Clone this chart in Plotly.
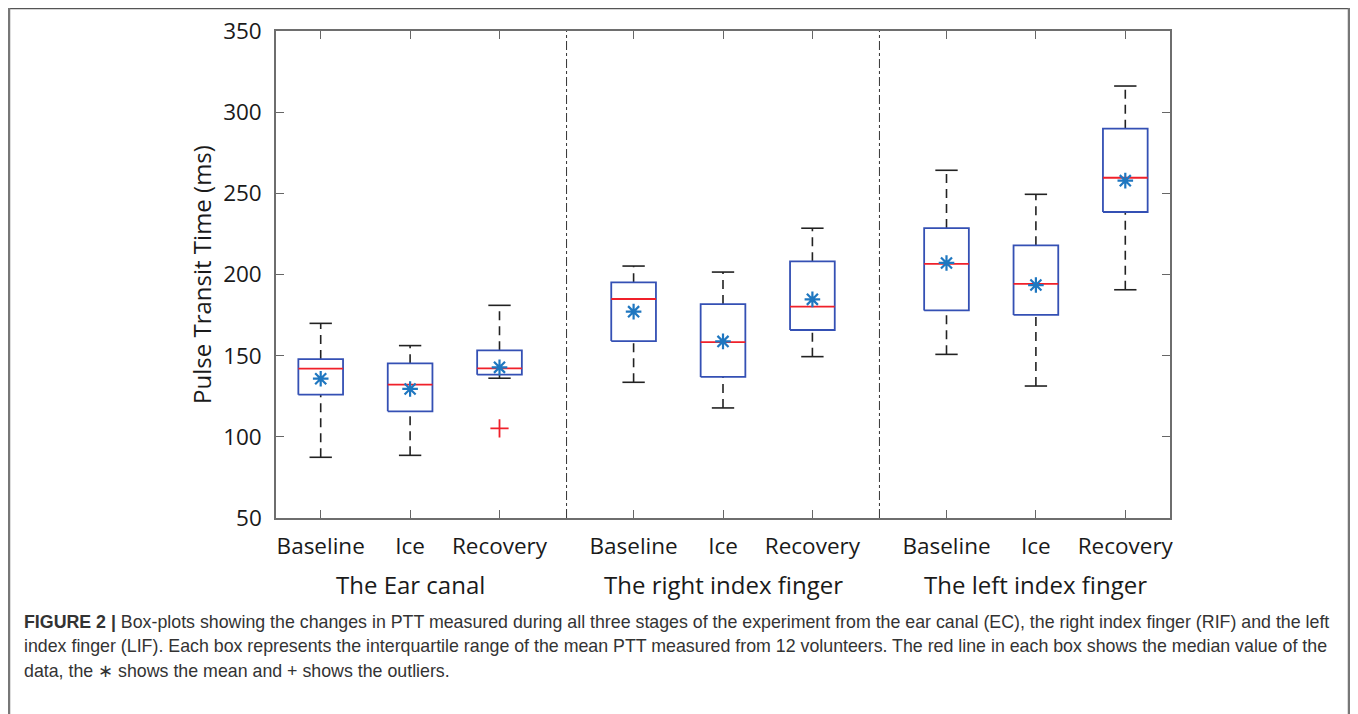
import plotly.graph_objects as go

# ---- data ----
groups = ["The Ear canal", "The right index finger", "The left index finger"]
stages = ["Baseline", "Ice", "Recovery"]
positions = [1, 2, 3, 4.5, 5.5, 6.5, 8, 9, 10]
whisker_low = [87.4, 88.6, 136.1, 133.6, 117.8, 149.4, 150.8, 131.3, 190.6]
q1 = [126.0, 115.7, 138.3, 159.0, 136.9, 165.8, 177.9, 175.1, 238.5]
median = [142.0, 132.1, 142.2, 184.9, 158.4, 180.2, 206.5, 194.2, 259.6]
q3 = [147.9, 145.3, 153.3, 195.2, 181.8, 208.1, 228.6, 218.0, 289.8]
whisker_high = [169.9, 156.2, 181.0, 205.2, 201.5, 228.5, 264.2, 249.4, 316.1]
means = [135.8, 129.5, 142.8, 177.1, 158.8, 184.7, 207.1, 193.5, 257.8]
outlier_pos = [3]
outlier_val = [105.2]
y_ticks = [50, 100, 150, 200, 250, 300, 350]

caption_lines = [
    "<b>FIGURE 2 |</b> Box-plots showing the changes in PTT measured during all three stages of the experiment from the ear canal (EC), the right index finger (RIF) and the left",
    "index finger (LIF). Each box represents the interquartile range of the mean PTT measured from 12 volunteers. The red line in each box shows the median value of the",
    "data, the \u2217 shows the mean and + shows the outliers.",
]

BOX_W = 0.5
CAP_W = 0.25
BLUE = "#3450B4"
RED = "#F0202A"
STAR = "#1F77C0"
TXT = "#1a1a1a"

# page offset (browser body margin) compensation
OFF = 8
W, H = 1358 - 2 * OFF, 714 - OFF
L, T, R, B = 276 - OFF, 31 - OFF, 1170 - OFF, 518 - OFF  # plot area edges in figure pixels

fig = go.Figure()

# whiskers (dashed) and caps
wx, wy, cx, cy = [], [], [], []
for p, lo, a, b, hi in zip(positions, whisker_low, q1, q3, whisker_high):
    wx += [p, p, None, p, p, None]
    wy += [b, hi, None, lo, a, None]
    cx += [p - CAP_W / 2, p + CAP_W / 2, None, p - CAP_W / 2, p + CAP_W / 2, None]
    cy += [hi, hi, None, lo, lo, None]
fig.add_trace(go.Scatter(x=wx, y=wy, mode="lines", line=dict(color="#222222", width=1.6, dash="9px,6px"),
                         hoverinfo="skip", showlegend=False))
fig.add_trace(go.Scatter(x=cx, y=cy, mode="lines", line=dict(color="#222222", width=1.6),
                         hoverinfo="skip", showlegend=False))

# boxes
bx, by = [], []
for p, a, b in zip(positions, q1, q3):
    l, r = p - BOX_W / 2, p + BOX_W / 2
    bx += [l, r, r, l, l, None]
    by += [a, a, b, b, a, None]
fig.add_trace(go.Scatter(x=bx, y=by, mode="lines", line=dict(color=BLUE, width=1.8),
                         hoverinfo="skip", showlegend=False))

# medians
mx, my = [], []
for p, m in zip(positions, median):
    mx += [p - BOX_W / 2, p + BOX_W / 2, None]
    my += [m, m, None]
fig.add_trace(go.Scatter(x=mx, y=my, mode="lines", line=dict(color=RED, width=1.8),
                         hoverinfo="skip", showlegend=False))

# means
fig.add_trace(go.Scatter(x=positions, y=means, mode="markers",
                         marker=dict(symbol="asterisk-open", size=13, color=STAR, line=dict(color=STAR, width=2.2)),
                         showlegend=False))

# outliers
fig.add_trace(go.Scatter(x=outlier_pos, y=outlier_val, mode="markers",
                         marker=dict(symbol="cross-thin-open", size=13, color=RED, line=dict(color=RED, width=1.8)),
                         showlegend=False))

# group separators (dash-dot) between groups
seps = [(positions[2] + positions[3]) / 2, (positions[5] + positions[6]) / 2]
for s in seps:
    fig.add_shape(type="line", xref="x", yref="paper", x0=s, x1=s, y0=0, y1=1,
                  line=dict(color="#333333", width=1, dash="dashdot"))

tick_text = stages * len(groups)

fig.update_layout(
    width=W, height=H,
    margin=dict(l=L, r=W - R, t=T, b=H - B, autoexpand=False),
    paper_bgcolor="white", plot_bgcolor="white",
    font=dict(family="Open Sans", color=TXT),
    xaxis=dict(range=[0.5, 10.5], tickvals=positions, ticktext=tick_text,
               ticks="inside", ticklen=8, tickcolor="#666666", tickwidth=1, ticklabelstandoff=7,
               showline=True, linecolor="#6e6e6e", linewidth=1.5, mirror="ticks",
               showgrid=False, zeroline=False, tickfont=dict(size=22.5, family="Open Sans", color=TXT)),
    yaxis=dict(range=[50, 350], tickvals=y_ticks,
               ticks="inside", ticklen=8, tickcolor="#666666", tickwidth=1, ticklabelstandoff=8,
               showline=True, linecolor="#6e6e6e", linewidth=1.5, mirror="ticks",
               showgrid=False, zeroline=False, tickfont=dict(size=22.5, family="Open Sans", color=TXT),
               title=dict(text="Pulse Transit Time (ms)", font=dict(size=24, family="Open Sans", color=TXT), standoff=5)),
)

px = lambda v: (v - OFF - L) / (R - L)
py = lambda v: (B - (v - OFF)) / (B - T)

# group labels
for i, g in enumerate(groups):
    c = sum(positions[3 * i:3 * i + 3]) / 3
    fig.add_annotation(text=g, x=c, xref="x", y=py(584), yref="paper", yanchor="middle", showarrow=False,
                       font=dict(size=24, family="Open Sans", color=TXT))

# caption
cap_y = [622, 646, 671]
for line, yy in zip(caption_lines, cap_y):
    fig.add_annotation(text=line, xref="paper", yref="paper",
                       x=px(22), xanchor="left", y=py(yy), yanchor="middle",
                       showarrow=False, align="left",
                       font=dict(size=17.8, family="Liberation Sans Narrow, Liberation Sans", color="#333333"))

# figure frame
fig.add_shape(type="line", xref="paper", yref="paper", x0=px(8), x1=px(1350), y0=py(8.5), y1=py(8.5),
              line=dict(color="#555555", width=1.5))
fig.add_shape(type="line", xref="paper", yref="paper", x0=px(9), x1=px(9), y0=py(8), y1=py(714),
              line=dict(color="#777777", width=2.5))
fig.add_shape(type="line", xref="paper", yref="paper", x0=px(1349), x1=px(1349), y0=py(8), y1=py(714),
              line=dict(color="#777777", width=2.5))

fig.write_html("out.html")
